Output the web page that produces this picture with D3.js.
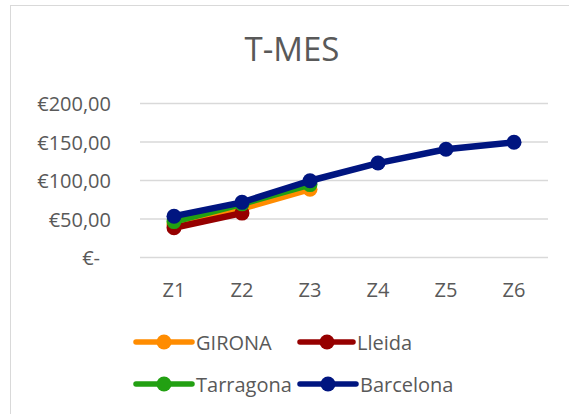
<!DOCTYPE html>
<html>
<head>
<meta charset="utf-8">
<script src="https://cdn.jsdelivr.net/npm/d3@7"></script>
<style>
  body { margin: 0; background: #fff; }
  text { font-family: "Open Sans", "Noto Sans", sans-serif; fill: #595959; }
</style>
</head>
<body>
<div class="canvas"></div>
<script>
const categories = ['Z1', 'Z2', 'Z3', 'Z4', 'Z5', 'Z6'];
const yTicks = [0, 50, 100, 150, 200];

const girona = [42, 63, 88];
const lleida = [38, 57];
const tarragona = [46, 69, 94];
const barcelona = [53, 71, 99, 122, 140, 149];

const series = [
    { name: 'GIRONA', values: girona, colour: '#ff8c00' },
    { name: 'Lleida', values: lleida, colour: '#960000' },
    { name: 'Tarragona', values: tarragona, colour: '#22a012' },
    { name: 'Barcelona', values: barcelona, colour: '#001580' }
];

const dims = { width: 569, height: 414 };

const svg = d3.select('.canvas')
    .append('svg')
    .attr('width', dims.width)
    .attr('height', dims.height);

// chart border
svg.append('rect')
    .attr('x', 10.5).attr('y', 5.5)
    .attr('width', 600).attr('height', 500)
    .attr('fill', 'none')
    .attr('stroke', '#d9d9d9');

const x = d3.scaleBand()
    .domain(categories)
    .range([140, 548]);

const y = d3.scaleLinear()
    .domain([0, 200])
    .range([257, 103]);

// gridlines
svg.selectAll('.grid')
    .data(yTicks)
    .enter()
    .append('line')
    .attr('class', 'grid')
    .attr('x1', 140).attr('x2', 548)
    .attr('y1', d => y(d) + 0.5).attr('y2', d => y(d) + 0.5)
    .attr('stroke', '#d9d9d9')
    .attr('stroke-width', 1.5);

const fmt = d => d === 0 ? '€-' : '€' + d3.format('.2f')(d).replace('.', ',');

svg.selectAll('.ylab')
    .data(yTicks)
    .enter()
    .append('text')
    .attr('class', 'ylab')
    .attr('x', d => d === 0 ? 100 : 111)
    .attr('y', d => y(d) + 1)
    .attr('dy', '0.35em')
    .attr('text-anchor', 'end')
    .attr('font-size', 20)
    .text(fmt);

svg.selectAll('.xlab')
    .data(categories)
    .enter()
    .append('text')
    .attr('class', 'xlab')
    .attr('x', d => x(d) + x.bandwidth() / 2)
    .attr('y', 290)
    .attr('dy', '0.35em')
    .attr('text-anchor', 'middle')
    .attr('font-size', 20)
    .text(d => d);

svg.append('text')
    .attr('x', 292)
    .attr('y', 49)
    .attr('dy', '0.35em')
    .attr('text-anchor', 'middle')
    .attr('font-size', 33)
    .text('T-MES');

const line = d3.line()
    .x((d, i) => x(categories[i]) + x.bandwidth() / 2)
    .y(d => y(d));

const groups = svg.selectAll('.series')
    .data(series)
    .enter()
    .append('g')
    .attr('class', 'series');

groups.append('path')
    .attr('fill', 'none')
    .attr('stroke', d => d.colour)
    .attr('stroke-width', 6.5)
    .attr('stroke-linejoin', 'round')
    .attr('d', d => line(d.values));

groups.selectAll('circle')
    .data(d => d.values.map((v, i) => ({ v, i, colour: d.colour })))
    .enter()
    .append('circle')
    .attr('cx', d => x(categories[d.i]) + x.bandwidth() / 2)
    .attr('cy', d => y(d.v))
    .attr('r', 7.5)
    .attr('fill', d => d.colour);

// legend
const legendPos = [
    { x: 136, y: 342 },
    { x: 300, y: 342 },
    { x: 136, y: 384 },
    { x: 300, y: 384 }
];

const legend = svg.selectAll('.legend')
    .data(series)
    .enter()
    .append('g')
    .attr('class', 'legend')
    .attr('transform', (d, i) => `translate(${legendPos[i].x}, ${legendPos[i].y})`);

legend.append('line')
    .attr('x1', 0).attr('x2', d => d.name === 'Lleida' ? 53 : 56)
    .attr('stroke', d => d.colour)
    .attr('stroke-width', 5.5)
    .attr('stroke-linecap', 'round');

legend.append('circle')
    .attr('cx', d => d.name === 'Lleida' ? 27 : 28)
    .attr('r', 7.5)
    .attr('fill', d => d.colour);

legend.append('text')
    .attr('x', d => d.name === 'Lleida' ? 57 : 60)
    .attr('y', 1)
    .attr('dy', '0.35em')
    .attr('font-size', 20)
    .text(d => d.name);
</script>
</body>
</html>
